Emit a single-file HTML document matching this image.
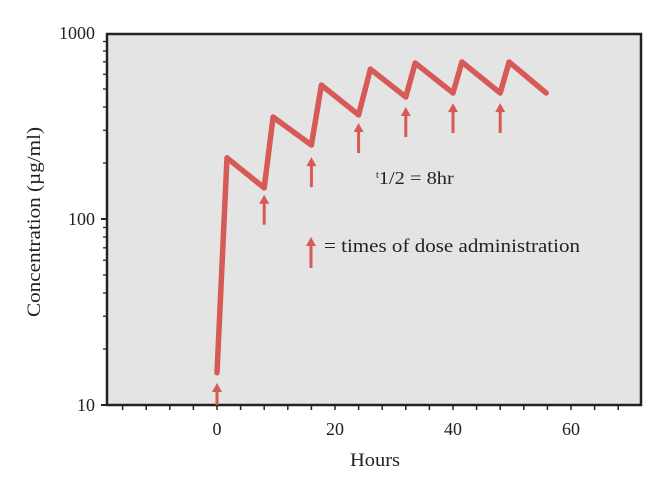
<!DOCTYPE html>
<html><head><meta charset="utf-8"><style>
body{margin:0;background:#fff;}
text{font-family:"Liberation Serif",serif;fill:#222;}
</style></head><body>
<svg width="668" height="475" id="svg">
<rect x="107" y="34" width="534" height="371" fill="#e4e4e4" stroke="#222" stroke-width="2.5"/>
<g id="g"></g>
<text x="375" y="466" font-size="19" text-anchor="middle" textLength="50" lengthAdjust="spacingAndGlyphs">Hours</text>
<text transform="translate(40,222) rotate(-90)" font-size="19" text-anchor="middle" textLength="190" lengthAdjust="spacingAndGlyphs">Concentration (µg/ml)</text>
<text x="376" y="184" font-size="18"><tspan font-size="10" dy="-6">t</tspan><tspan dy="6" textLength="75" lengthAdjust="spacingAndGlyphs">1/2 = 8hr</tspan></text>
<text x="324" y="252" font-size="19" textLength="256" lengthAdjust="spacingAndGlyphs">= times of dose administration</text>
</svg>
<script>
const times=[0,1.7,8,9.5,16,17.7,24,26,32,33.6,40,41.5,48,49.5,55.8];
const conc=[14.9,213,147,353,250,525,363,640,453,690,476,698,476,698,476];
const doseTimes=[0,8,16,24,32,40,48];
const arrowHeads=[15,135,215,328,400,420,420];
const yTicks=[10,100,1000];
const xTicks=[0,20,40,60];
const X=t=>217+t*5.9;
const Y=c=>405-186*Math.log10(c/10);
const NS="http://www.w3.org/2000/svg";
const g=document.getElementById('g');
function mk(tag,at){const e=document.createElementNS(NS,tag);for(const k in at)e.setAttribute(k,at[k]);g.appendChild(e);return e;}
const col="#d65a55";
let d=times.map((t,i)=>(i?'L':'M')+X(t).toFixed(1)+','+Y(conc[i]).toFixed(1)).join(' ');
const p=mk('path',{d:d,fill:'none',stroke:col,'stroke-width':5.5,'stroke-linejoin':'round','stroke-linecap':'round'});


function arrow(x,y,len,name){
 const a=mk('path',{d:`M${x},${y+len} L${x},${y+6}`,stroke:col,'stroke-width':3,fill:'none'});
 
 
 const h=mk('path',{d:`M${x},${y} L${x-5},${y+9} L${x+5},${y+9} Z`,fill:col});
 
 
}
doseTimes.forEach((t,i)=>{let y=Y(arrowHeads[i]);if(i==0)y=383;arrow(X(t),y,i==0?22:30,'dose-arrow');});
arrow(311,237,31,'legend-arrow');
for(let dec=10;dec<1000;dec*=10){for(let m=1;m<10;m++){const v=dec*m;const y=Y(v);
 const t=mk('line',{x1:m==1?101:103,x2:107,y1:y,y2:y,stroke:'#222','stroke-width':m==1?2:1.3});
 }}
yTicks.forEach(v=>{const t=mk('text',{x:95,y:Y(v)+6,'font-size':18,'text-anchor':'end'});t.textContent=v;
 });
for(let h=-16;h<=68;h+=4){const x=X(h);const t=mk('line',{x1:x,x2:x,y1:405,y2:410,stroke:'#222','stroke-width':1.5});
 }
xTicks.forEach(v=>{const t=mk('text',{x:X(v),y:435,'font-size':18,'text-anchor':'middle'});t.textContent=v;
 });
</script>
</body></html>
